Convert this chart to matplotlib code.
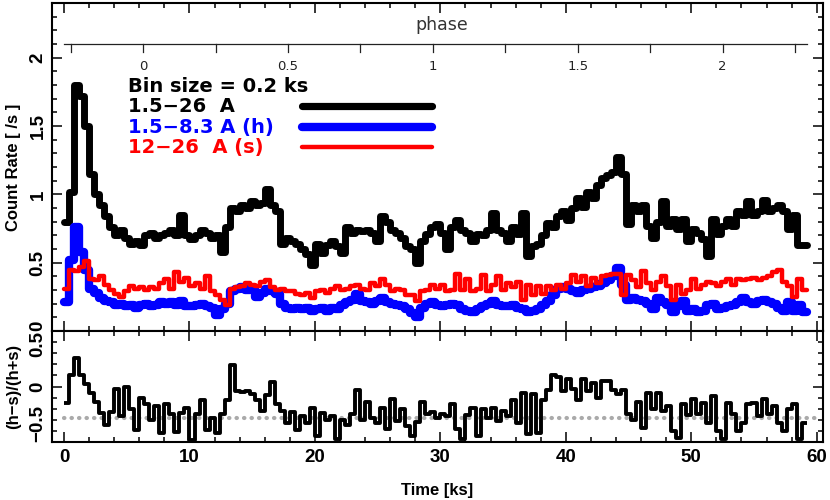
import numpy as np
import matplotlib
matplotlib.use("Agg")
import matplotlib.pyplot as plt
from matplotlib.ticker import MultipleLocator, FuncFormatter
import matplotlib.transforms as mtrans

plt.rcParams['font.family'] = ['Liberation Sans', 'DejaVu Sans']

# ---------------- data ----------------
bin_size = 0.4  # ks, width of the plotted bins

total = [0.80, 1.02, 1.80, 1.72, 1.50, 1.15, 1.00, 0.92, 0.84, 0.76,
         0.70, 0.74, 0.68, 0.64, 0.66, 0.63, 0.70, 0.72, 0.68, 0.70,
         0.72, 0.74, 0.70, 0.85, 0.70, 0.67, 0.70, 0.74, 0.72, 0.68,
         0.70, 0.58, 0.76, 0.90, 0.88, 0.92, 0.90, 0.95, 0.92, 0.94,
         1.04, 0.92, 0.88, 0.64, 0.68, 0.66, 0.64, 0.60, 0.56, 0.48,
         0.64, 0.57, 0.63, 0.66, 0.62, 0.57, 0.76, 0.72, 0.74, 0.73,
         0.74, 0.72, 0.66, 0.84, 0.80, 0.74, 0.72, 0.68, 0.62, 0.60,
         0.50, 0.66, 0.71, 0.76, 0.78, 0.72, 0.60, 0.76, 0.81, 0.74,
         0.72, 0.66, 0.71, 0.70, 0.74, 0.86, 0.74, 0.72, 0.66, 0.76,
         0.71, 0.86, 0.55, 0.62, 0.64, 0.70, 0.79, 0.76, 0.84, 0.88,
         0.81, 0.90, 0.97, 0.91, 1.02, 0.97, 1.07, 1.12, 1.14, 1.16,
         1.27, 1.15, 0.78, 0.92, 0.88, 0.92, 0.77, 0.68, 0.80, 0.95,
         0.77, 0.82, 0.75, 0.82, 0.66, 0.75, 0.72, 0.67, 0.55, 0.82,
         0.71, 0.77, 0.82, 0.77, 0.88, 0.85, 0.95, 0.85, 0.88, 0.96,
         0.88, 0.90, 0.92, 0.88, 0.75, 0.85, 0.63, 0.63]

hard = [0.21, 0.52, 0.76, 0.58, 0.45, 0.31, 0.28, 0.24, 0.22, 0.21,
        0.19, 0.20, 0.18, 0.19, 0.17, 0.19, 0.20, 0.18, 0.19, 0.21,
        0.20, 0.21, 0.19, 0.22, 0.18, 0.18, 0.19, 0.20, 0.18, 0.17,
        0.12, 0.16, 0.20, 0.29, 0.31, 0.32, 0.30, 0.31, 0.25, 0.28,
        0.31, 0.29, 0.27, 0.20, 0.17, 0.16, 0.17, 0.16, 0.17, 0.15,
        0.16, 0.17, 0.15, 0.17, 0.16, 0.19, 0.21, 0.23, 0.27, 0.22,
        0.21, 0.20, 0.22, 0.24, 0.21, 0.20, 0.19, 0.18, 0.16, 0.13,
        0.10, 0.17, 0.20, 0.21, 0.19, 0.18, 0.19, 0.20, 0.19, 0.16,
        0.15, 0.14, 0.16, 0.18, 0.20, 0.22, 0.19, 0.18, 0.18, 0.19,
        0.17, 0.16, 0.14, 0.15, 0.16, 0.19, 0.22, 0.26, 0.31, 0.32,
        0.31, 0.29, 0.28, 0.30, 0.31, 0.32, 0.33, 0.35, 0.37, 0.40,
        0.46, 0.34, 0.23, 0.24, 0.23, 0.22, 0.20, 0.16, 0.24, 0.21,
        0.19, 0.14, 0.18, 0.22, 0.15, 0.16, 0.14, 0.15, 0.19, 0.20,
        0.16, 0.17, 0.18, 0.19, 0.21, 0.24, 0.21, 0.20, 0.22, 0.23,
        0.21, 0.20, 0.17, 0.15, 0.21, 0.15, 0.19, 0.14]

soft = [0.31, 0.45, 0.44, 0.47, 0.51, 0.38, 0.37, 0.40, 0.34, 0.30,
        0.27, 0.25, 0.29, 0.33, 0.31, 0.32, 0.30, 0.32, 0.31, 0.35,
        0.38, 0.31, 0.43, 0.36, 0.39, 0.33, 0.35, 0.31, 0.40, 0.29,
        0.26, 0.23, 0.19, 0.31, 0.32, 0.33, 0.35, 0.34, 0.33, 0.36,
        0.37, 0.32, 0.30, 0.31, 0.29, 0.29, 0.27, 0.26, 0.28, 0.24,
        0.29, 0.30, 0.28, 0.31, 0.33, 0.30, 0.31, 0.33, 0.34, 0.31,
        0.30, 0.35, 0.33, 0.38, 0.34, 0.29, 0.31, 0.30, 0.26, 0.26,
        0.22, 0.29, 0.30, 0.34, 0.31, 0.34, 0.29, 0.30, 0.42, 0.30,
        0.38, 0.29, 0.31, 0.41, 0.29, 0.34, 0.40, 0.30, 0.35, 0.32,
        0.36, 0.23, 0.34, 0.26, 0.33, 0.27, 0.33, 0.30, 0.34, 0.31,
        0.35, 0.41, 0.36, 0.40, 0.33, 0.39, 0.35, 0.40, 0.41, 0.42,
        0.42, 0.26, 0.41, 0.37, 0.32, 0.44, 0.35, 0.30, 0.36, 0.40,
        0.33, 0.23, 0.34, 0.27, 0.30, 0.38, 0.31, 0.34, 0.36, 0.35,
        0.33, 0.36, 0.38, 0.34, 0.38, 0.37, 0.38, 0.39, 0.37, 0.39,
        0.40, 0.43, 0.45, 0.36, 0.33, 0.25, 0.38, 0.30]

hratio = [-0.15, 0.10, 0.26, 0.10, 0.02, -0.06, -0.14, -0.24, -0.35, -0.23,
          -0.02, -0.27, 0.00, -0.20, -0.39, -0.10, -0.16, -0.30, -0.18, -0.42,
          -0.16, -0.25, -0.41, -0.24, -0.19, -0.48, -0.25, -0.12, -0.39, -0.28,
          -0.42, -0.25, -0.12, 0.19, -0.04, -0.05, -0.04, -0.07, -0.12, -0.22,
          -0.08, 0.04, -0.16, -0.22, -0.33, -0.23, -0.39, -0.27, -0.33, -0.19,
          -0.45, -0.24, -0.30, -0.27, -0.47, -0.30, -0.35, -0.25, -0.03, -0.30,
          -0.14, -0.28, -0.33, -0.19, -0.38, -0.11, -0.31, -0.20, -0.36, -0.45,
          -0.32, -0.14, -0.25, -0.23, -0.28, -0.25, -0.27, -0.16, -0.38, -0.47,
          -0.26, -0.19, -0.45, -0.20, -0.28, -0.19, -0.31, -0.22, -0.27, -0.12,
          -0.33, -0.06, -0.43, -0.07, -0.42, -0.12, -0.03, 0.10, 0.09, -0.04,
          0.07, -0.02, -0.12, 0.07, -0.04, 0.03, -0.10, 0.05, 0.05, -0.03,
          -0.07, -0.03, -0.25, -0.30, -0.14, -0.37, -0.06, -0.20, -0.06, -0.22,
          -0.18, -0.40, -0.46, -0.16, -0.26, -0.11, -0.25, -0.15, -0.33, -0.09,
          -0.40, -0.47, -0.15, -0.25, -0.40, -0.33, -0.16, -0.15, -0.27, -0.11,
          -0.25, -0.18, -0.33, -0.40, -0.20, -0.16, -0.47, -0.33]

hr_reference = -0.28

series_labels = ["1.5\u221226  A", "1.5\u22128.3 A (h)", "12\u221226  A (s)"]
bin_text = "Bin size = 0.2 ks"

phase_zero_ks = 6.3     # time of phase 0
period_ks = 23.1        # orbital period
phase_ticks = [-0.25, 0.0, 0.25, 0.5, 0.75, 1.0, 1.25, 1.5, 1.75, 2.0, 2.25]
phase_labels = {0.0: "0", 0.5: "0.5", 1.0: "1", 1.5: "1.5", 2.0: "2"}

# ---------------- figure ----------------
W, H = 830, 500
fig = plt.figure(figsize=(W / 100, H / 100), dpi=100)
L, R = 52, 823
ax1 = fig.add_axes([L / W, 1 - 331 / H, (R - L) / W, 328 / H])
ax2 = fig.add_axes([L / W, 1 - 442 / H, (R - L) / W, 111 / H], sharex=ax1)

edges = np.arange(len(total) + 1) * bin_size

ax1.stairs(total, edges, baseline=None, color='black', lw=5.0, joinstyle='round', capstyle='round', zorder=3)
ax1.stairs(hard, edges, baseline=None, color='#0000ff', lw=6.0, joinstyle='round', capstyle='round', zorder=4)
ax1.stairs(soft, edges, baseline=None, color='#ff0000', lw=3.2, joinstyle='round', capstyle='round', zorder=5)

ax2.hlines(hr_reference, 0, 60, colors='#aaaaaa', lw=3.0, linestyles=[(0, (0.1, 1.7))],
           capstyle='round', zorder=2)
ax2.stairs(hratio, edges, baseline=None, color='black', lw=2.8, joinstyle='round', zorder=3)

ax1.set_xlim(-0.96, 60.5)
ax1.set_ylim(0, 2.4)
ax2.set_ylim(-0.5, 0.5)

fmt = FuncFormatter(lambda v, p: ('%g' % v).replace('-', '\u2212'))
for ax in (ax1, ax2):
    ax.xaxis.set_major_locator(MultipleLocator(10))
    ax.xaxis.set_minor_locator(MultipleLocator(2))
    ax.yaxis.set_major_locator(MultipleLocator(0.5))
    ax.yaxis.set_minor_locator(MultipleLocator(0.1))
    ax.yaxis.set_major_formatter(fmt)
    ax.xaxis.set_major_formatter(fmt)
    ax.tick_params(which='both', direction='in', top=True, right=True, width=1.1)
    ax.tick_params(which='major', length=7.5)
    ax.tick_params(which='minor', length=3.8)
    ax.tick_params(axis='y', labelsize=13.5, labelrotation=90, pad=4)
    ax.tick_params(axis='x', labelsize=13.5, pad=5)
    for s in ax.spines.values():
        s.set_linewidth(1.5)
ax1.tick_params(axis='x', labelbottom=False)

fig.canvas.draw()
for ax in (ax1, ax2):
    for lab in ax.get_yticklabels():
        lab.set_fontweight('bold')
        lab.set_va('center')
for lab in ax2.get_xticklabels():
    lab.set_fontweight('bold')
# keep the stacked labels at the panel join apart
for lab, tick in zip(ax1.get_yticklabels(), ax1.get_yticks()):
    if abs(tick) < 1e-9:
        lab.set_va('bottom')
for lab, tick in zip(ax2.get_yticklabels(), ax2.get_yticks()):
    if abs(tick - 0.5) < 1e-9:
        lab.set_va('top')
    if abs(tick + 0.5) < 1e-9:
        lab.set_va('bottom')

ax1.set_ylabel("Count Rate [ /s ]", fontsize=12, fontweight='bold')
ax2.set_ylabel("(h\u2212s)/(h+s)", fontsize=12, fontweight='bold')
ax1.yaxis.set_label_coords(-31 / (R - L), 0.5)
ax2.yaxis.set_label_coords(-31 / (R - L), 0.5)
ax2.set_xlabel("Time [ks]", fontsize=12, fontweight='bold', labelpad=12)

# ---------------- phase axis ----------------
blend = mtrans.blended_transform_factory(ax1.transData, ax1.transAxes)
y_line = (331 - 44) / 328
y_tick = (331 - 52) / 328
y_lab = (331 - 67) / 328
ax1.plot([edges[0], edges[-1]], [y_line, y_line], transform=blend, color='#222222', lw=0.9, zorder=2)
for ph in phase_ticks:
    tk = phase_zero_ks + ph * period_ks
    ax1.plot([tk, tk], [y_line, y_tick], transform=blend, color='#222222', lw=0.9, zorder=2)
    if ph in phase_labels:
        ax1.text(tk, y_lab, phase_labels[ph], transform=blend, ha='center', va='center',
                 fontsize=9.5, family='DejaVu Sans', color='#222222')
ax1.text(0.506, (331 - 25) / 328, "phase", transform=ax1.transAxes, ha='center', va='center',
         fontsize=12.5, family='DejaVu Sans', color='#333333')

# ---------------- legend ----------------
tx = (128 - L) / (R - L)
leg_font = dict(fontsize=14, fontweight='bold', family='DejaVu Sans')
ax1.text(tx, (331 - 87) / 328, bin_text, transform=ax1.transAxes, ha='left', va='center',
         color='black', **leg_font)
leg_colors = ['black', '#0000ff', '#ff0000']
leg_lw = [5.2, 6.0, 3.2]
leg_y = [(331 - 106) / 328, (331 - 127) / 328, (331 - 147) / 328]
x0, x1 = (302 - L) / (R - L), (432 - L) / (R - L)
for lab, c, lw, yy in zip(series_labels, leg_colors, leg_lw, leg_y):
    ax1.text(tx, yy, lab, transform=ax1.transAxes, ha='left', va='center',
             color=c, **leg_font)
    ax1.plot([x0, x1], [yy, yy], transform=ax1.transAxes, color=c, lw=lw,
             solid_capstyle='round')

fig.savefig("out.png", dpi=100)
